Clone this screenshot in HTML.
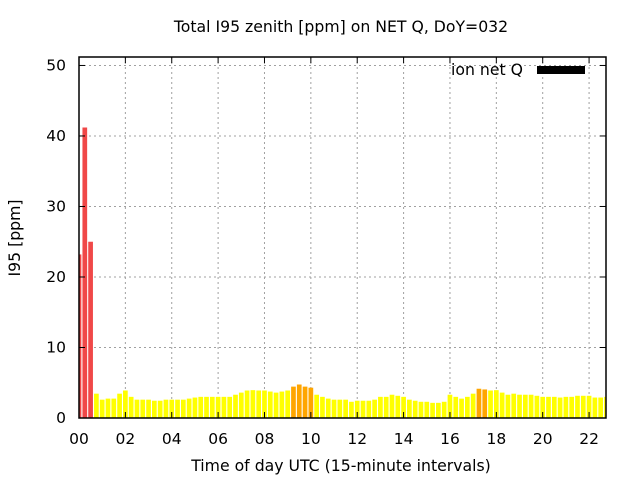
<!DOCTYPE html>
<html><head><meta charset="utf-8"><style>
body{margin:0;background:#fff}
svg{display:block;font-family:"DejaVu Sans","Liberation Sans",sans-serif}
</style></head><body>
<svg id="chart" width="640" height="480">
<text x="341" y="32" text-anchor="middle" font-size="15.7">Total I95 zenith [ppm] on NET Q, DoY=032</text>
<text x="341" y="471" text-anchor="middle" font-size="15.7">Time of day UTC (15-minute intervals)</text>
<text transform="translate(20,238) rotate(-90)" text-anchor="middle" font-size="15.7">I95 [ppm]</text>
<g id="grid"></g><g id="bars"></g><g id="axes"></g>
<g>
<text x="523" y="75" text-anchor="end" font-size="15.7">ion net Q</text>
<rect x="537" y="66" width="48" height="8" fill="#000"/>
</g>
</svg>
<script>
const values=[23.2,41.2,25,3.45,2.6,2.75,2.75,3.45,3.9,3.0,2.6,2.6,2.6,2.45,2.45,2.6,2.6,2.6,2.6,2.75,2.9,3.0,3.0,3.0,3.0,3.0,3.0,3.3,3.6,3.9,3.95,3.9,3.9,3.75,3.6,3.75,3.9,4.45,4.75,4.45,4.3,3.3,3.0,2.75,2.6,2.6,2.6,2.3,2.45,2.45,2.45,2.6,3.0,3.0,3.3,3.15,3.0,2.6,2.45,2.3,2.3,2.15,2.15,2.3,3.3,3.0,2.75,3.0,3.45,4.15,4.05,3.9,3.95,3.6,3.3,3.45,3.3,3.3,3.3,3.15,3.0,3.0,3.0,2.9,3.0,3.0,3.15,3.15,3.15,2.9,2.9,3.0];
const yTicks=[0,10,20,30,40,50];
const xTicks=[0,2,4,6,8,10,12,14,16,18,20,22];
const xTickLabels=["00","02","04","06","08","10","12","14","16","18","20","22"];
const L=79,R=606,T=57,B=418,XMAX=22.73,YMAX=51.2;
const xs=h=>L+h/XMAX*(R-L), ys=v=>B-v/YMAX*(B-T);
const NS="http://www.w3.org/2000/svg";
function mk(tag,attrs,parent){const e=document.createElementNS(NS,tag);for(const k in attrs)e.setAttribute(k,attrs[k]);document.getElementById(parent).appendChild(e);return e;}
const cp=mk('clipPath',{id:'pc'},'bars');mk('rect',{x:L,y:T,width:R-L,height:B-T},'bars');
cp.appendChild(document.getElementById('bars').lastChild);
values.forEach((v,i)=>{
 const cx=xs(i*0.25),w=4.7;
 const col=v>10?'#f04848':(v>=4?'#ffa500':'#ffff00');
 const r=mk('rect',{x:cx-w/2,y:ys(v),width:w,height:B-ys(v),fill:col,'clip-path':'url(#pc)'},'bars');
 
 
});
yTicks.forEach(t=>{
 const y=ys(t);
 if(t>0){const g=mk('line',{x1:L,x2:R,y1:y,y2:y,stroke:'#a0a0a0','stroke-dasharray':'2,3'},'grid');}
 mk('line',{x1:L,x2:L+6,y1:y,y2:y,stroke:'#000'},'axes');
 mk('line',{x1:R,x2:R-6,y1:y,y2:y,stroke:'#000'},'axes');
 const tx=mk('text',{x:66,y:y+5,'text-anchor':'end','font-size':15.5},'axes');tx.textContent=t;
 
});
xTicks.forEach((t,i)=>{
 const x=xs(t);
 if(t>0){const g=mk('line',{x1:x,x2:x,y1:T,y2:B,stroke:'#a0a0a0','stroke-dasharray':'2,3'},'grid');}
 mk('line',{x1:x,x2:x,y1:B,y2:B-6,stroke:'#000'},'axes');
 mk('line',{x1:x,x2:x,y1:T,y2:T+6,stroke:'#000'},'axes');
 const tx=mk('text',{x:x,y:444,'text-anchor':'middle','font-size':15.5},'axes');tx.textContent=xTickLabels[i];
 
});
const fr=mk('rect',{x:L,y:T,width:R-L,height:B-T,fill:'none',stroke:'#000','stroke-width':1.5},'axes');

</script>
</body></html>
